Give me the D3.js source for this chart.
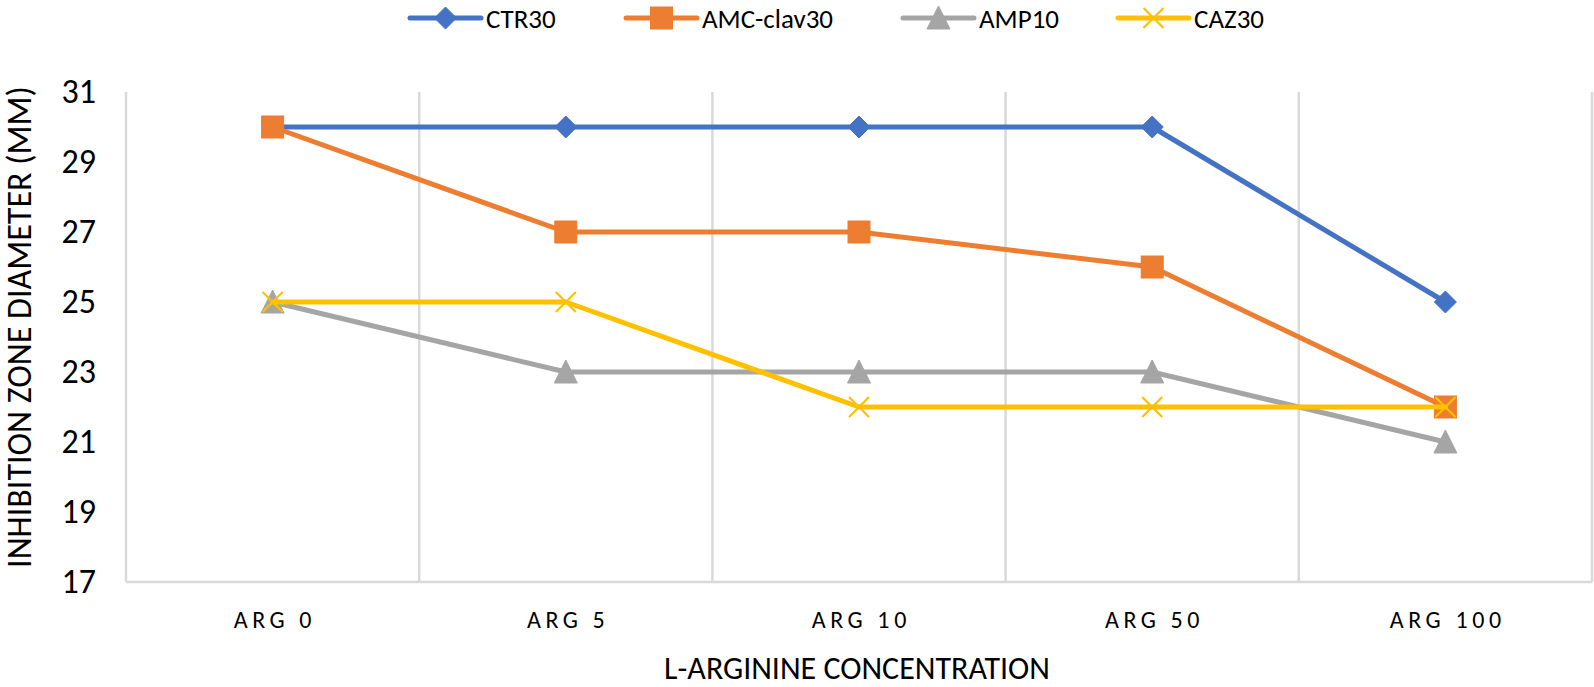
<!DOCTYPE html>
<html>
<head>
<meta charset="utf-8">
<script src="https://cdn.jsdelivr.net/npm/d3@7"></script>
<style>
  html, body { margin: 0; padding: 0; background: #fff; }
  svg { display: block; }
  text { font-family: Carlito, Calibri, "Liberation Sans Narrow", "Open Sans", sans-serif; fill: #000; }
</style>
</head>
<body>
<svg id="chart" width="1594" height="687"></svg>
<script>
const categories = ["ARG 0", "ARG 5", "ARG 10", "ARG 50", "ARG 100"];
const seriesNames = ["CTR30", "AMC-clav30", "AMP10", "CAZ30"];
const ctr30 = [30, 30, 30, 30, 25];
const amcClav30 = [30, 27, 27, 26, 22];
const amp10 = [25, 23, 23, 23, 21];
const caz30 = [25, 25, 22, 22, 22];
const yTicks = [17, 19, 21, 23, 25, 27, 29, 31];
const yTitle = "INHIBITION ZONE DIAMETER (MM)";
const xTitle = "L-ARGININE CONCENTRATION";

const colors = ["#4472C4", "#ED7D31", "#A5A5A5", "#FFC000"];
const markers = ["diamond", "square", "triangle", "x"];
const seriesValues = [ctr30, amcClav30, amp10, caz30];

const svg = d3.select("#chart");
const pLeft = 126, pRight = 1592, pTop = 92, pBottom = 582;

const x = d3.scaleBand().domain(categories).range([pLeft, pRight]).padding(0);
const y = d3.scaleLinear().domain([17, 31]).range([pBottom, pTop]);

// vertical gridlines at band boundaries
const bounds = categories.map(c => x(c)).concat([pRight]);
svg.append("g").selectAll("line").data(bounds).join("line")
  .attr("x1", d => d).attr("x2", d => d)
  .attr("y1", pTop).attr("y2", pBottom)
  .attr("stroke", "#d9d9d9").attr("stroke-width", 2.5);
svg.append("line").attr("x1", pLeft).attr("x2", pRight).attr("y1", pBottom).attr("y2", pBottom)
  .attr("stroke", "#d9d9d9").attr("stroke-width", 2.5);

// y tick labels
const yAxis = d3.axisLeft(y).tickValues(yTicks).tickSize(0).tickPadding(30);
const gy = svg.append("g").attr("transform", `translate(${pLeft},0)`).call(yAxis);
gy.select(".domain").remove();
gy.attr("font-family", null).attr("font-size", null);
gy.selectAll("text").attr("font-size", 34);

// x tick labels
const xAxis = d3.axisBottom(x).tickSize(0).tickPadding(29);
const gx = svg.append("g").attr("transform", `translate(0,${pBottom})`).call(xAxis);
gx.select(".domain").remove();
gx.attr("font-family", null).attr("font-size", null);
gx.selectAll("text").attr("font-size", 24).style("letter-spacing", "4.6px")
  .attr("dx", "2.3px");

// axis titles
svg.append("text").attr("x", 857).attr("y", 668)
  .attr("text-anchor", "middle").attr("dominant-baseline", "central")
  .attr("font-size", 32).text(xTitle);
svg.append("text").attr("transform", `translate(19,${(pTop + pBottom) / 2 - 10}) rotate(-90)`)
  .attr("text-anchor", "middle").attr("dominant-baseline", "central")
  .attr("font-size", 34).text(yTitle);

function drawMarker(g, type, color, cx, cy) {
  if (type === "diamond") {
    g.append("path").attr("d", `M${cx},${cy-11}L${cx+11},${cy}L${cx},${cy+11}L${cx-11},${cy}Z`)
      .attr("fill", color).attr("stroke", color).attr("stroke-width", 1);
  } else if (type === "square") {
    g.append("rect").attr("x", cx - 11).attr("y", cy - 11).attr("width", 22).attr("height", 22)
      .attr("fill", color).attr("stroke", color).attr("stroke-width", 1);
  } else if (type === "triangle") {
    g.append("path").attr("d", `M${cx},${cy-12}L${cx+11.5},${cy+11}L${cx-11.5},${cy+11}Z`)
      .attr("fill", color).attr("stroke", color).attr("stroke-width", 1);
  } else if (type === "x") {
    g.append("path").attr("d", `M${cx-10},${cy-10}L${cx+10},${cy+10}M${cx+10},${cy-10}L${cx-10},${cy+10}`)
      .attr("fill", "none").attr("stroke", color).attr("stroke-width", 2.2);
  }
}

const line = d3.line().x((d, i) => x(categories[i]) + x.bandwidth() / 2).y(d => y(d));
seriesValues.forEach((vals, si) => {
  const g = svg.append("g");
  g.append("path").datum(vals).attr("d", line)
    .attr("fill", "none").attr("stroke", colors[si]).attr("stroke-width", 5)
    .attr("stroke-linejoin", "round").attr("stroke-linecap", "round");
  vals.forEach((v, i) => drawMarker(g, markers[si], colors[si], x(categories[i]) + x.bandwidth() / 2, y(v)));
});

// legend
const legendX = [410, 626, 903, 1118];
seriesNames.forEach((name, si) => {
  const g = svg.append("g");
  const lx = legendX[si], ly = 18;
  g.append("line").attr("x1", lx).attr("x2", lx + 71).attr("y1", ly).attr("y2", ly)
    .attr("stroke", colors[si]).attr("stroke-width", 5).attr("stroke-linecap", "round");
  drawMarker(g, markers[si], colors[si], lx + 35.5, ly);
  g.append("text").attr("x", lx + 76).attr("y", ly).attr("dominant-baseline", "central")
    .attr("font-size", 27).text(name);
});
</script>
</body>
</html>
